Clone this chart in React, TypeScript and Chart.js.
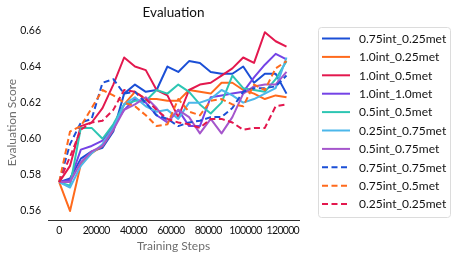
import React, { useEffect, useRef } from "react";
import { Chart, registerables } from "chart.js";
Chart.register(...registerables);

const steps = [0, 5800, 11600, 17400, 23200, 29000, 34800, 40600, 46400, 52200, 58000, 63800, 69600, 75400, 81200, 87000, 92800, 98600, 104400, 110200, 116000, 121800];

const s075_025 = [0.576, 0.578, 0.589, 0.593, 0.595, 0.604, 0.625, 0.630, 0.626, 0.627, 0.640, 0.637, 0.643, 0.642, 0.637, 0.636, 0.636, 0.640, 0.631, 0.636, 0.636, 0.625];
const s10_025 = [0.576, 0.560, 0.586, 0.592, 0.596, 0.605, 0.619, 0.626, 0.622, 0.622, 0.621, 0.621, 0.627, 0.626, 0.625, 0.631, 0.631, 0.627, 0.625, 0.622, 0.624, 0.623];
const s10_05 = [0.576, 0.585, 0.607, 0.609, 0.617, 0.630, 0.645, 0.640, 0.638, 0.627, 0.624, 0.612, 0.627, 0.630, 0.631, 0.635, 0.639, 0.645, 0.642, 0.659, 0.654, 0.651];
const s10_10 = [0.576, 0.577, 0.594, 0.596, 0.599, 0.607, 0.616, 0.622, 0.620, 0.613, 0.609, 0.616, 0.607, 0.607, 0.623, 0.624, 0.625, 0.626, 0.634, 0.641, 0.647, 0.644];
const s05_05 = [0.576, 0.574, 0.606, 0.606, 0.600, 0.608, 0.619, 0.621, 0.621, 0.627, 0.625, 0.630, 0.626, 0.619, 0.614, 0.620, 0.635, 0.628, 0.627, 0.626, 0.633, 0.643];
const s025_075 = [0.576, 0.573, 0.585, 0.592, 0.597, 0.606, 0.619, 0.623, 0.618, 0.615, 0.616, 0.611, 0.620, 0.620, 0.622, 0.627, 0.624, 0.620, 0.622, 0.625, 0.628, 0.645];
const s05_075 = [0.576, 0.576, 0.587, 0.593, 0.596, 0.605, 0.616, 0.619, 0.623, 0.617, 0.609, 0.616, 0.612, 0.603, 0.611, 0.603, 0.612, 0.625, 0.629, 0.630, 0.630, 0.637];
const s075_075 = [0.576, 0.597, 0.609, 0.611, 0.631, 0.633, 0.625, 0.626, 0.620, 0.613, 0.611, 0.607, 0.609, 0.610, 0.612, 0.612, 0.617, 0.626, 0.628, 0.628, 0.629, 0.635];
const s075_05 = [0.576, 0.604, 0.607, 0.617, 0.627, 0.624, 0.620, 0.618, 0.613, 0.607, 0.608, 0.622, 0.615, 0.613, 0.621, 0.622, 0.619, 0.618, 0.630, 0.627, 0.639, 0.643];
const s025_025 = [0.576, 0.590, 0.605, 0.609, 0.610, 0.616, 0.627, 0.626, 0.622, 0.616, 0.611, 0.609, 0.608, 0.606, 0.611, 0.611, 0.609, 0.605, 0.606, 0.606, 0.618, 0.619];

const seriesNames = ["0.75int_0.25met", "1.0int_0.25met", "1.0int_0.5met", "1.0int_1.0met", "0.5int_0.5met", "0.25int_0.75met", "0.5int_0.75met", "0.75int_0.75met", "0.75int_0.5met", "0.25int_0.25met"];
const seriesValues = [s075_025, s10_025, s10_05, s10_10, s05_05, s025_075, s05_075, s075_075, s075_05, s025_025];
const seriesColors = ["#1b4fd6", "#ff6a1c", "#e3184e", "#7443e6", "#2dc6b3", "#4cb7ea", "#a556cc", "#1b4fd6", "#ff6a1c", "#e3184e"];
const seriesDashed = [false, false, false, false, false, false, false, true, true, true];

const xTicks = [0, 20000, 40000, 60000, 80000, 100000, 120000];
const yTicks = [0.56, 0.58, 0.6, 0.62, 0.64, 0.66];

const FONT = "Lato, 'Open Sans', sans-serif";
const DASH = [6, 3.5];

const decor = {
  id: "decor",
  afterDraw(chart: any) {
    const ctx = chart.ctx as any;
    const ca = chart.chartArea;
    ctx.save();
    ctx.fillStyle = "#111";
    ctx.font = `13.5px ${FONT}`;
    ctx.textAlign = "center";
    ctx.textBaseline = "middle";
    ctx.fillText("Evaluation", (ca.left + ca.right) / 2, 13);

    // x tick labels (condensed to match the narrow digits of the original)
    const xs = chart.scales.x;
    ctx.font = `10.5px ${FONT}`;
    ctx.letterSpacing = "-0.7px";
    xTicks.forEach((v) => {
      ctx.fillText(String(v), xs.getPixelForValue(v) - 0.35, 231);
    });
    ctx.letterSpacing = "0px";

    // legend box
    const bx = 318.5, by = 27.5, bw = 132, bh = 190, r = 3;
    ctx.beginPath();
    ctx.moveTo(bx + r, by);
    ctx.lineTo(bx + bw - r, by);
    ctx.quadraticCurveTo(bx + bw, by, bx + bw, by + r);
    ctx.lineTo(bx + bw, by + bh - r);
    ctx.quadraticCurveTo(bx + bw, by + bh, bx + bw - r, by + bh);
    ctx.lineTo(bx + r, by + bh);
    ctx.quadraticCurveTo(bx, by + bh, bx, by + bh - r);
    ctx.lineTo(bx, by + r);
    ctx.quadraticCurveTo(bx, by, bx + r, by);
    ctx.closePath();
    ctx.fillStyle = "rgba(255,255,255,0.8)";
    ctx.fill();
    ctx.strokeStyle = "#dcdcdc";
    ctx.lineWidth = 1;
    ctx.stroke();

    ctx.font = `12px ${FONT}`;
    ctx.textAlign = "left";
    chart.data.datasets.forEach((ds: any, i: number) => {
      const y = 38.5 + i * 18.4;
      ctx.beginPath();
      ctx.setLineDash(seriesDashed[i] ? DASH : []);
      ctx.strokeStyle = ds.borderColor;
      ctx.lineWidth = 2;
      ctx.moveTo(322, y);
      ctx.lineTo(350, y);
      ctx.stroke();
      ctx.setLineDash([]);
      ctx.fillStyle = "#111";
      ctx.fillText(ds.label, 359, y + 0.5);
    });
    ctx.restore();
  },
};

export default function App() {
  const ref = useRef<HTMLCanvasElement>(null);
  useEffect(() => {
    const canvas = ref.current!;
    Chart.defaults.font.family = FONT;
    const datasets = seriesNames.map((name, i) => ({
      label: name,
      data: steps.map((x, j) => ({ x, y: seriesValues[i][j] })),
      borderColor: seriesColors[i],
      backgroundColor: seriesColors[i],
      borderWidth: 2,
      borderDash: seriesDashed[i] ? DASH : [],
      borderJoinStyle: "round" as const,
      pointRadius: 0,
      pointHoverRadius: 0,
      tension: 0,
      fill: false,
      order: seriesNames.length - i,
    }));
    const chart = new Chart(canvas, {
      type: "line",
      data: { datasets },
      plugins: [decor],
      options: {
        responsive: false,
        animation: false,
        devicePixelRatio: 1,
        layout: { padding: { left: 0, top: 25, right: 158, bottom: 0 } },
        plugins: { legend: { display: false }, title: { display: false }, tooltip: { enabled: false } },
        scales: {
          x: {
            type: "linear",
            min: -6000,
            max: 128500,
            afterBuildTicks: (s: any) => { s.ticks = xTicks.map((v) => ({ value: v })); },
            afterFit: (s: any) => { s.height = 39; },
            grid: { display: false, drawTicks: false },
            border: { display: true, color: "#333", width: 1 },
            ticks: { display: false },
            title: { display: true, text: "Training Steps", color: "#6e6e6e", font: { family: FONT, size: 12 }, padding: { top: 0, bottom: 6 } },
          },
          y: {
            type: "linear",
            min: 0.555,
            max: 0.663,
            afterBuildTicks: (s: any) => { s.ticks = yTicks.map((v) => ({ value: v })); },
            afterFit: (s: any) => { s.width = 48; },
            grid: { display: false, drawTicks: false },
            border: { display: false },
            ticks: { padding: 7, color: "#111", font: { family: FONT, size: 10.5 }, callback: (v: any) => Number(v).toFixed(2) },
            title: { display: true, text: "Evaluation Score", color: "#6e6e6e", font: { family: FONT, size: 12 }, padding: { top: 5, bottom: 0 } },
          },
        },
      } as any,
    });
    return () => chart.destroy();
  }, []);
  return (
    <div style={{ position: "absolute", left: 0, top: 0, width: 457, height: 259, background: "#fff" }}>
      <canvas ref={ref} width={457} height={259} style={{ width: 457, height: 259, display: "block" }} />
    </div>
  );
}
